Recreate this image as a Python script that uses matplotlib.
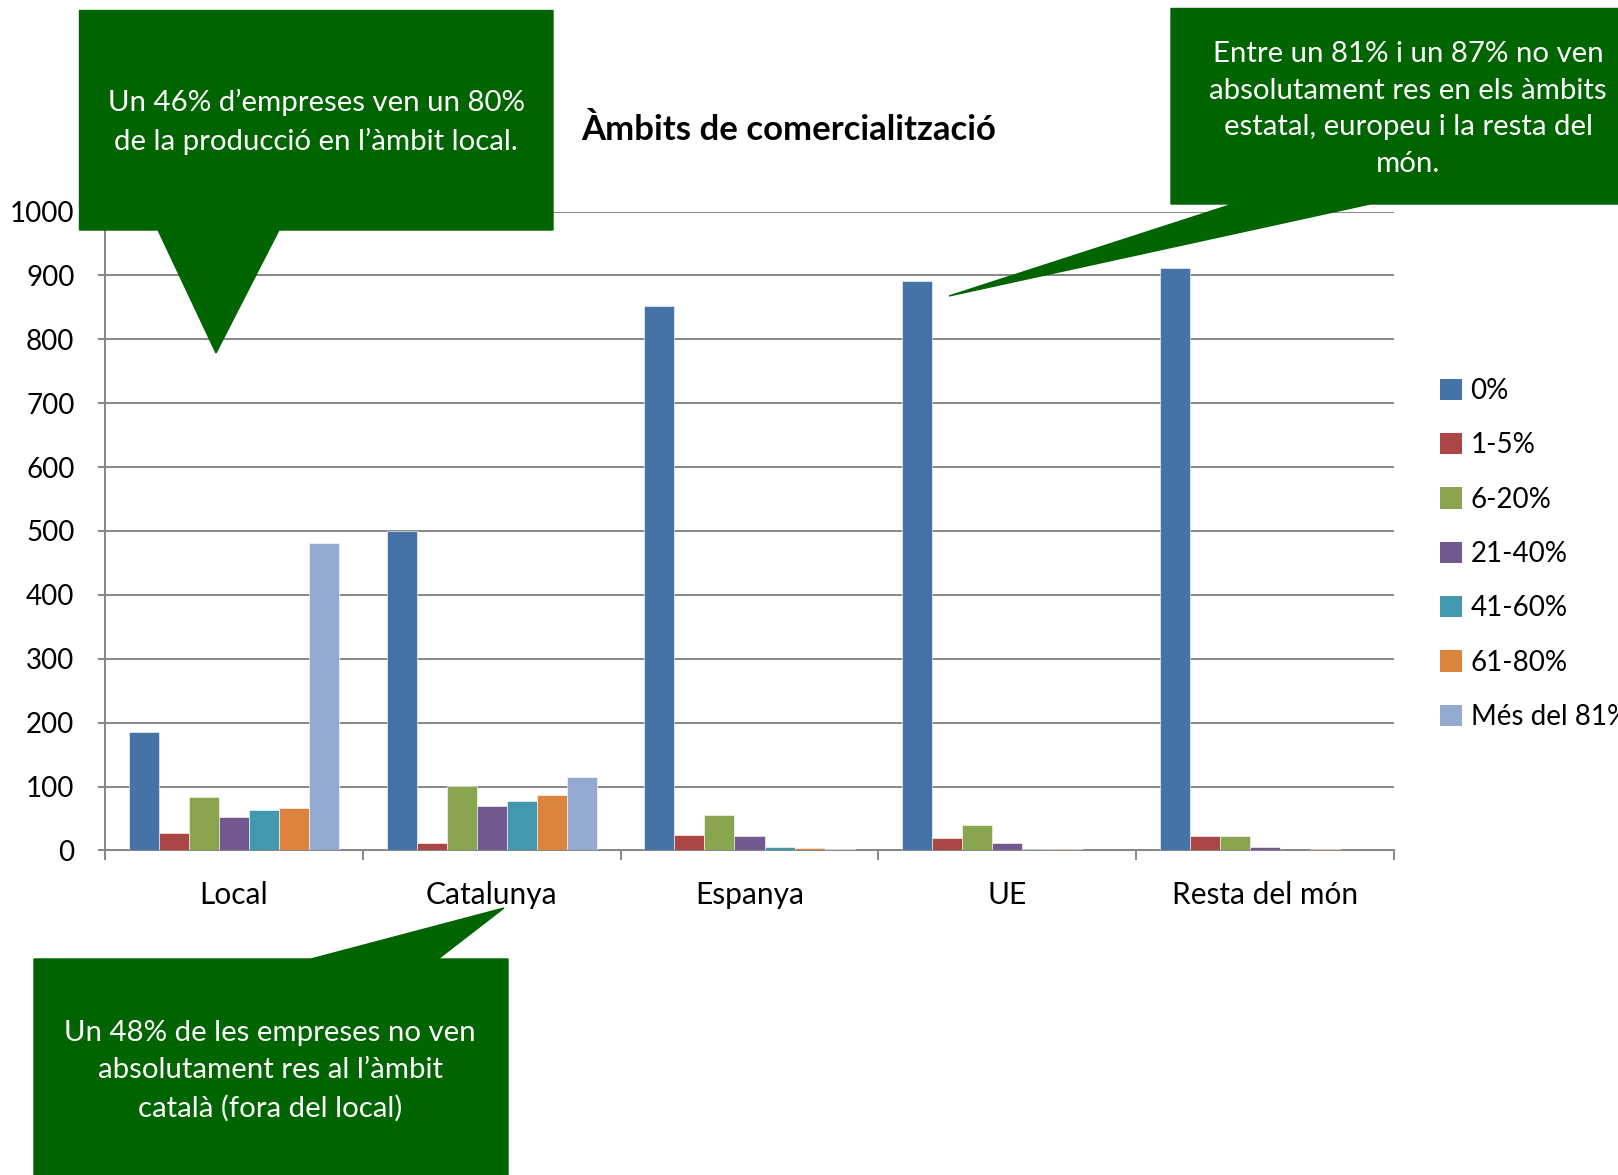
import matplotlib
matplotlib.use("Agg")
import matplotlib.pyplot as plt
from matplotlib.patches import Polygon
import numpy as np

plt.rcParams['font.family'] = ['Lato', 'DejaVu Sans']

categories = ["Local", "Catalunya", "Espanya", "UE", "Resta del món"]
series_labels = ["0%", "1-5%", "6-20%", "21-40%", "41-60%", "61-80%", "Més del 81%"]
s_0 = [186, 500, 852, 891, 911]
s_1_5 = [27, 12, 24, 19, 22]
s_6_20 = [84, 101, 55, 39, 22]
s_21_40 = [52, 69, 22, 11, 6]
s_41_60 = [64, 77, 5, 1.5, 0.5]
s_61_80 = [67, 86, 3, 2.5, 1.5]
s_81 = [481, 115, 1.5, 0.5, 0.5]
yticks = [0, 100, 200, 300, 400, 500, 600, 700, 800, 900, 1000]

title = "Àmbits de comercialització"
note1 = "Un 46% d’empreses ven un 80%\nde la producció en l’àmbit local."
note2 = "Entre un 81% i un 87% no ven\nabsolutament res en els àmbits\nestatal, europeu i la resta del\nmón."
note3 = "Un 48% de les empreses no ven\nabsolutament res al l’àmbit\ncatalà (fora del local)"

colors = ['#4572A7', '#AA4643', '#89A54E', '#71588F', '#4198AF', '#DB843D', '#93A9CF']
green = '#006400'

W, H = 1618, 1175
fig = plt.figure(figsize=(W / 100, H / 100), dpi=100)

def px(x, y):
    return (x / W, 1 - y / H)

left, right, top, bottom = 105, 1394, 211.5, 850.4
ax = fig.add_axes([left / W, 1 - bottom / H, (right - left) / W, (bottom - top) / H])

series = [s_0, s_1_5, s_6_20, s_21_40, s_41_60, s_61_80, s_81]
n = len(series)
bw = 0.1164
x = np.arange(len(categories)) + 0.5
handles = []
for i, (vals, c, lab) in enumerate(zip(series, colors, series_labels)):
    b = ax.bar(x + (i - (n - 1) / 2) * bw, vals, width=bw, color=c, label=lab,
               edgecolor='white', linewidth=0.4, zorder=3)
    handles.append(b)

ax.set_xlim(0, len(categories))
ax.set_ylim(0, 1000)
ax.set_yticks(yticks)
ax.set_yticklabels([str(t) for t in yticks])
ax.set_xticks(x)
ax.set_xticklabels(categories)
ax.set_xticks(np.arange(len(categories) + 1), minor=True)
ax.tick_params(axis='x', which='major', length=0, pad=22, labelsize=21.5)
ax.tick_params(axis='x', which='minor', length=7, width=1.4, color='#868686', direction='out')
ax.tick_params(axis='y', length=5, width=1.4, color='#868686', pad=17, labelsize=20)
for s in ['top', 'right']:
    ax.spines[s].set_visible(False)
for s in ['left', 'bottom']:
    ax.spines[s].set_color('#868686')
    ax.spines[s].set_linewidth(1.4)
ax.grid(axis='y', color='#868686', linewidth=1.4, zorder=0)
ax.set_axisbelow(True)

leg = fig.legend(handles=handles, labels=series_labels, loc='upper left',
                 bbox_to_anchor=px(1440, 378), frameon=False, fontsize=20,
                 handlelength=0.8, handleheight=0.8, handletextpad=0.3,
                 labelspacing=1.02, borderaxespad=0, borderpad=0)
for h in leg.legend_handles:
    h.set_edgecolor('none')

fig.text(*px(789, 130), title, ha='center', va='center', fontsize=25, fontweight='bold')

def callout(box, base, tip, text, text_center, linesp):
    x0, y0, x1, y1 = box
    bx0, bx1, by = base
    if by == y1:
        pts = [(x0, y0), (x1, y0), (x1, y1), (bx1, y1), tip, (bx0, y1), (x0, y1)]
    else:
        pts = [(x0, y0), (bx0, y0), tip, (bx1, y0), (x1, y0), (x1, y1), (x0, y1)]
    poly = Polygon([px(*p) for p in pts], closed=True, transform=fig.transFigure,
                   facecolor=green, edgecolor=green, linewidth=1, zorder=10)
    fig.patches.append(poly)
    fig.text(*px(*text_center), text, ha='center', va='center', color='white',
             fontsize=21.2, linespacing=linesp, zorder=11)

callout((79.5, 10.5, 553, 230), (158, 279, 230), (216, 353), note1, (316, 122), 1.52)
callout((1171, 8.5, 1650, 204), (1233, 1370, 204), (949, 296), note2, (1408, 109), 1.52)
callout((34, 959, 508, 1180), (311, 438, 959), (504, 908), note3, (270, 1071), 1.52)

fig.savefig("out.png", dpi=100, facecolor='white')
